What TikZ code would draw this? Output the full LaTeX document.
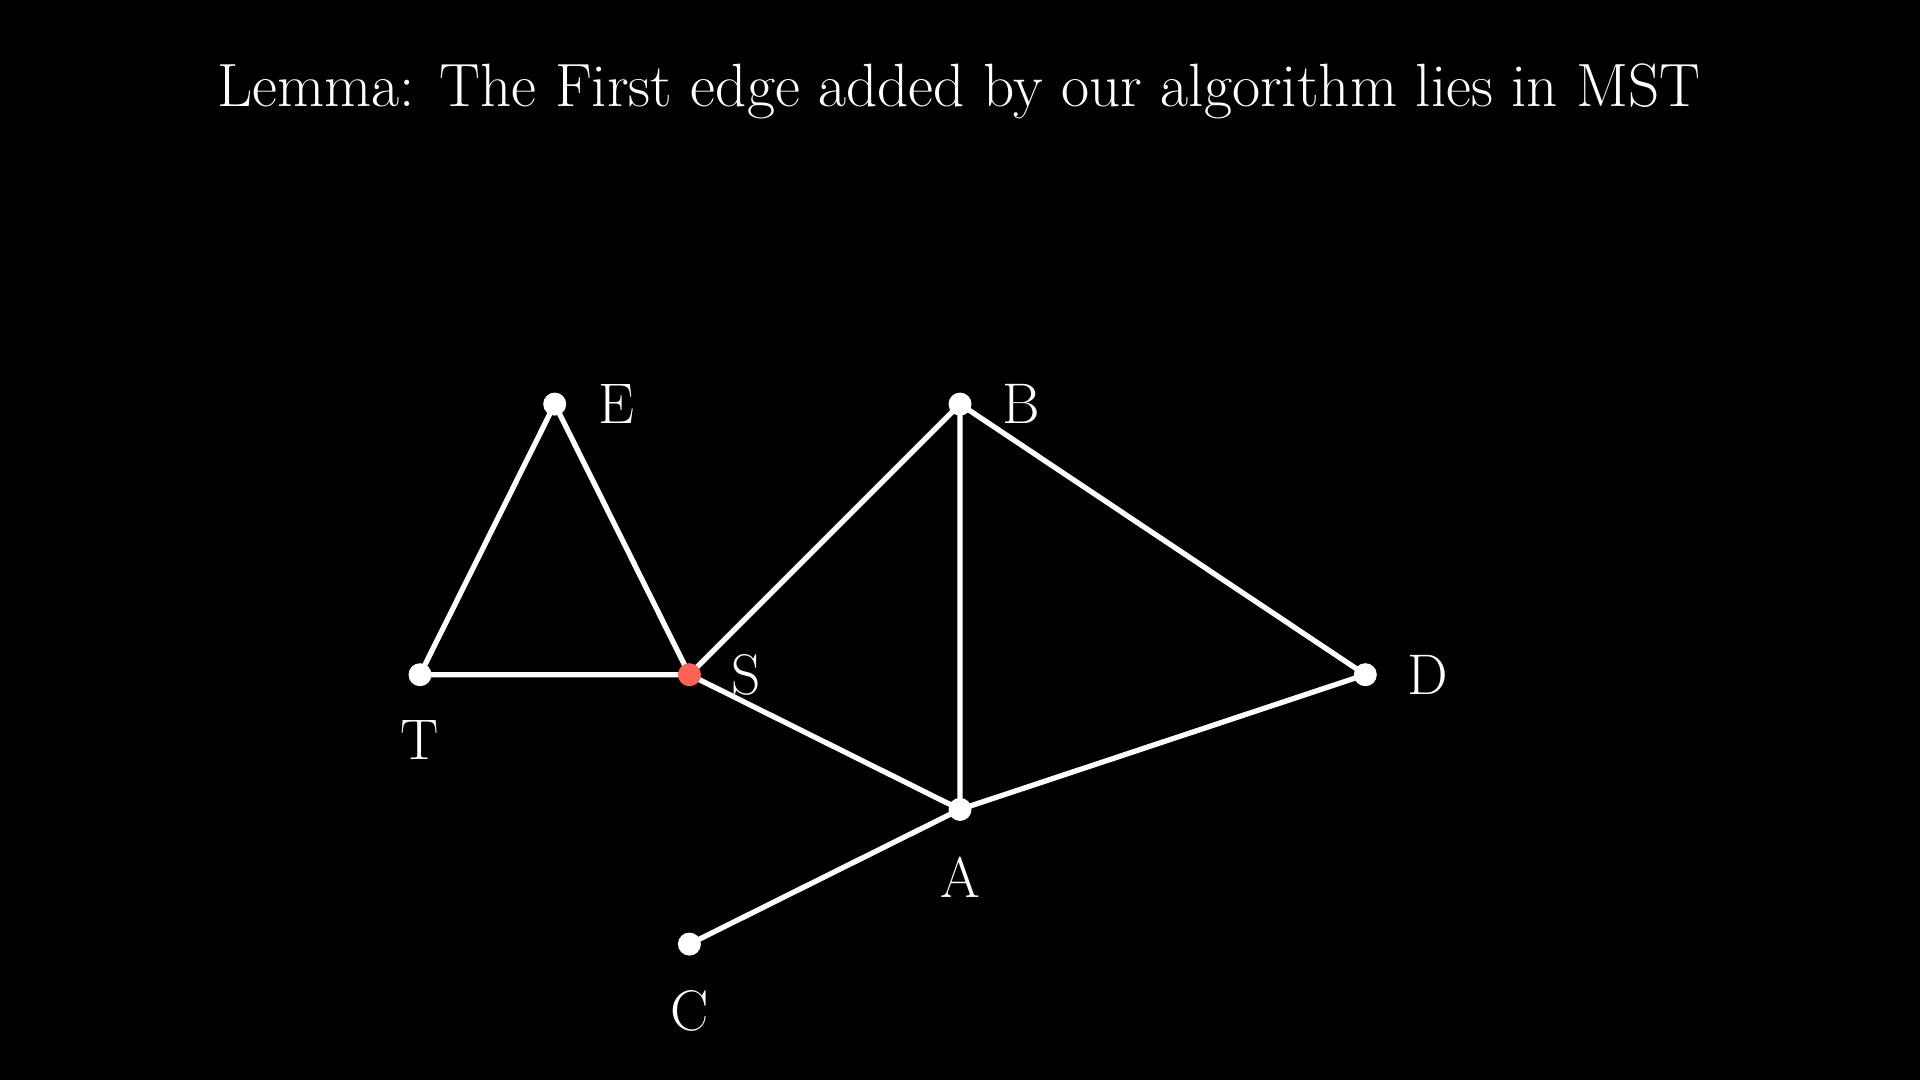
\documentclass[tikz,border=0pt]{standalone}
\definecolor{mred}{HTML}{FC6255}
\tikzset{
  vert/.style={circle,fill=white,inner sep=0pt,minimum size=0.23cm},
  edge/.style={white,line width=1.5pt},
  lab/.style={text=white,font=\fontsize{16.3}{19}\selectfont,inner sep=0pt}
}
\begin{document}
\begin{tikzpicture}
\fill[black] (0,0) rectangle (19.2,-10.8);
\useasboundingbox (0,0) rectangle (19.2,-10.8);
\node[text=white,font=\fontsize{17.4}{21}\selectfont,inner sep=0pt] (title) at (9.59,-0.91) {Lemma: The First edge added by our algorithm lies in MST};
\coordinate (E) at (5.547,-4.041);
\coordinate (B) at (9.60,-4.041);
\coordinate (T) at (4.20,-6.747);
\coordinate (S) at (6.894,-6.747);
\coordinate (D) at (13.653,-6.747);
\coordinate (A) at (9.60,-8.094);
\coordinate (C) at (6.894,-9.441);
\draw[edge] (T) -- (E) -- (S) -- (T);
\draw[edge] (S) -- (B) -- (A) -- (S);
\draw[edge] (B) -- (D) -- (A) -- (C);
\node[vert] (nE) at (E) {};
\node[vert] (nB) at (B) {};
\node[vert] (nT) at (T) {};
\node[vert,fill=mred] (nS) at (S) {};
\node[vert] (nD) at (D) {};
\node[vert] (nA) at (A) {};
\node[vert] (nC) at (C) {};
\node[lab] (lE) at (6.16,-4.04) {E};
\node[lab] (lB) at (10.21,-4.04) {B};
\node[lab] (lS) at (7.46,-6.75) {S};
\node[lab] (lD) at (14.28,-6.75) {D};
\node[lab] (lT) at (4.20,-7.40) {T};
\node[lab] (lA) at (9.60,-8.77) {A};
\node[lab] (lC) at (6.894,-10.11) {C};
\end{tikzpicture}
\end{document}
